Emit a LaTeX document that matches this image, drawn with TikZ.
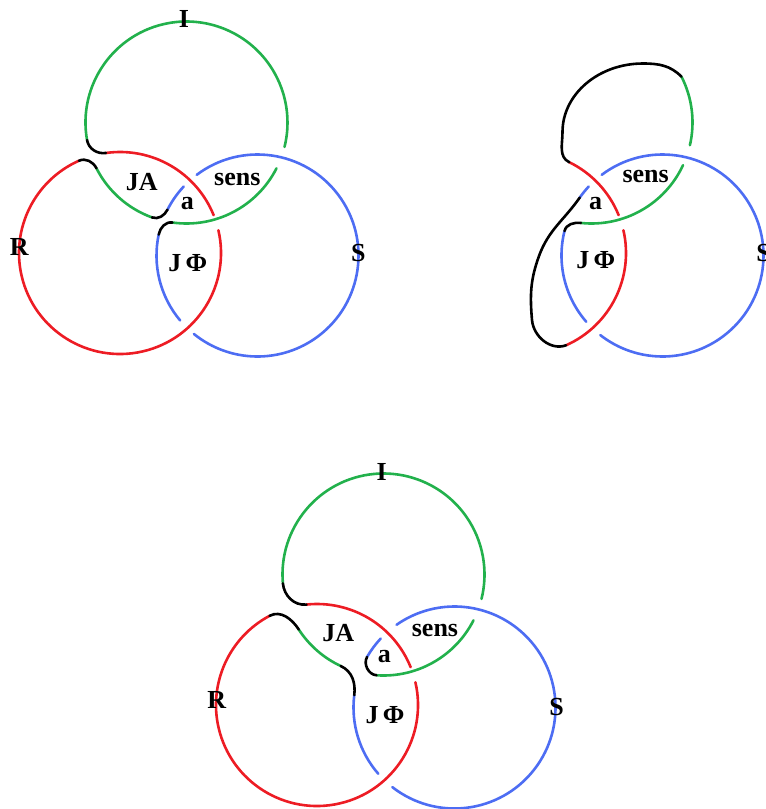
\documentclass[tikz,border=0pt]{standalone}
\usepackage{fontspec}
\setmainfont{Liberation Serif}
\usepackage{tikz}
\definecolor{ringgreen}{HTML}{22B14C}
\definecolor{ringred}{HTML}{ED1C24}
\definecolor{ringblue}{HTML}{4D6DF3}

\begin{document}
\begin{tikzpicture}[x=1pt,y=1pt]
  \tikzset{ringline/.style={line width=2.6pt,line cap=round}, ringi/.style={ringline,draw=ringgreen}, ringr/.style={ringline,draw=ringred}, rings/.style={ringline,draw=ringblue}, joint/.style={ringline,draw=black}, tag/.style={font=\fontsize{26}{30}\selectfont\bfseries,inner sep=0pt}}
  \path[use as bounding box] (0,0) rectangle (766,-809);
  \clip (0,0) rectangle (766,-809);

  % first knot, top left
  \begin{scope}
    \coordinate (G) at (186.5,-122.5);
    \coordinate (R) at (120,-253);
    \coordinate (B) at (257.5,-255.5);
    \draw[ringi] (G) ++(190:101) arc[start angle=190,end angle=-14,radius=101];
    \draw[ringi] (G) ++(-27:101) arc[start angle=-27,end angle=-98,radius=101];
    \draw[ringi] (G) ++(207:101) arc[start angle=207,end angle=250,radius=101];
    \draw[ringr] (R) ++(98:101) arc[start angle=98,end angle=22,radius=101];
    \draw[ringr] (R) ++(13:101) arc[start angle=13,end angle=-246,radius=101];
    \draw[rings] (B) ++(153:101) arc[start angle=153,end angle=137,radius=101];
    \draw[rings] (B) ++(127:101) arc[start angle=127,end angle=-129,radius=101];
    \draw[rings] (B) ++(220:101) arc[start angle=220,end angle=168,radius=101];
    \draw[joint] ([shift={(190:101)}]G) to[out=280,in=188] ([shift={(98:101)}]R);
    \draw[joint] ([shift={(114:101)}]R) to[out=24,in=117] ([shift={(207:101)}]G);
    \draw[joint] ([shift={(250:101)}]G) to[out=340,in=243] ([shift={(153:101)}]B);
    \draw[joint] ([shift={(168:101)}]B) to[out=78,in=172] ([shift={(-98:101)}]G);
    \node[tag] (i1) at (184,-18.5) {I};
    \node[tag] (ja1) at (141.7,-181.7) {JA};
    \node[tag] (sens1) at (237.3,-179) {sens};
    \node[tag] (a1) at (187.3,-204) {a};
    \node[tag] (r1) at (19.3,-247.3) {R};
    \node[tag] (jf1) at (187.7,-263.3) {J\,Φ};
    \node[tag] (s1) at (358.3,-253.3) {S};
  \end{scope}

  % second knot, top right
  \begin{scope}[shift={(405,0)}]
    \coordinate (G) at (186.5,-122.5);
    \coordinate (R) at (120,-253);
    \coordinate (B) at (257.5,-255.5);
    \draw[ringi] (G) ++(27:101) arc[start angle=27,end angle=-13,radius=101];
    \draw[ringi] (G) ++(-25:101) arc[start angle=-25,end angle=-96,radius=101];
    \draw[ringr] (R) ++(64:101) arc[start angle=64,end angle=22,radius=101];
    \draw[ringr] (R) ++(13:101) arc[start angle=13,end angle=-66,radius=101];
    \draw[rings] (B) ++(145:101) arc[start angle=145,end angle=137,radius=101];
    \draw[rings] (B) ++(127:101) arc[start angle=127,end angle=-128,radius=101];
    \draw[rings] (B) ++(-139:101) arc[start angle=-139,end angle=-194,radius=101];
    \draw[joint] ([shift={(27:101)}]G) to[out=135,in=0] (238,-63.5) arc[start angle=90,end angle=180,x radius=80.5,y radius=68.5] to[out=270,in=154] ([shift={(64:101)}]R);
    \draw[joint] ([shift={(-66:101)}]R) to[out=200,in=275] (127,-320) to[out=95,in=250] (134,-256) to[out=70,in=235] ([shift={(145:101)}]B);
    \draw[joint] ([shift={(166:101)}]B) to[out=76,in=174] ([shift={(-96:101)}]G);
    \node[tag] (sens2) at (240.7,-176.7) {sens};
    \node[tag] (a2) at (190.7,-203.3) {a};
    \node[tag] (jf2) at (190.7,-260) {J\,Φ};
    \node[tag] (s2) at (358.5,-253) {S};
  \end{scope}

  % third knot, bottom
  \begin{scope}[shift={(197,-452)}]
    \coordinate (G) at (186.5,-122.5);
    \coordinate (R) at (120,-253);
    \coordinate (B) at (257.5,-255.5);
    \draw[ringi] (G) ++(185:101) arc[start angle=185,end angle=-14,radius=101];
    \draw[ringi] (G) ++(-27:101) arc[start angle=-27,end angle=-94,radius=101];
    \draw[ringi] (G) ++(213:101) arc[start angle=213,end angle=245,radius=101];
    \draw[ringr] (R) ++(96:101) arc[start angle=96,end angle=22,radius=101];
    \draw[ringr] (R) ++(13:101) arc[start angle=13,end angle=-242,radius=101];
    \draw[rings] (B) ++(173:101) arc[start angle=173,end angle=221,radius=101];
    \draw[rings] (B) ++(232:101) arc[start angle=232,end angle=485,radius=101];
    \draw[rings] (B) ++(137:101) arc[start angle=137,end angle=150,radius=101];
    \draw[joint] ([shift={(185:101)}]G) to[out=275,in=186] ([shift={(96:101)}]R);
    \draw[joint] ([shift={(118:101)}]R) to[out=28,in=123] ([shift={(213:101)}]G);
    \draw[joint] ([shift={(245:101)}]G) to[out=335,in=83] ([shift={(173:101)}]B);
    \draw[joint] ([shift={(150:101)}]B) to[out=240,in=176] ([shift={(-94:101)}]G);
    \node[tag] (i3) at (184.7,-19.7) {I};
    \node[tag] (ja3) at (141.3,-181.3) {JA};
    \node[tag] (sens3) at (238,-178) {sens};
    \node[tag] (a3) at (187.3,-204.7) {a};
    \node[tag] (r3) at (19.7,-248) {R};
    \node[tag] (jf3) at (188,-263) {J\,Φ};
    \node[tag] (s3) at (359.7,-254.7) {S};
  \end{scope}
\end{tikzpicture}
\end{document}
